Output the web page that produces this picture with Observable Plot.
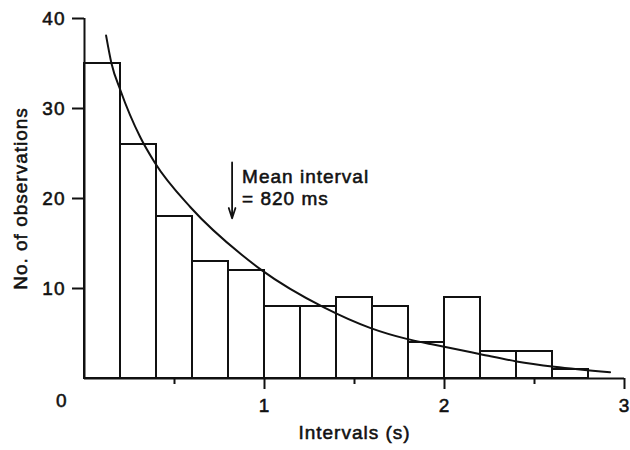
<!DOCTYPE html>
<html>
<head>
<meta charset="utf-8">
<script src="https://cdn.jsdelivr.net/npm/d3@7"></script>
<script src="https://cdn.jsdelivr.net/npm/@observablehq/plot@0.6"></script>
<style>
  body { margin: 0; background: #fff; }
  /* slightly heavier lettering */
  #chart text { stroke: #111; stroke-width: 0.55px; }
</style>
</head>
<body>
<div id="chart"></div>
<script>
// Histogram of inter-event intervals (0.2 s bins) with fitted exponential decay
const binStart = [0, 0.2, 0.4, 0.6, 0.8, 1.0, 1.2, 1.4, 1.6, 1.8, 2.0, 2.2, 2.4, 2.6];
const counts   = [35, 26, 18, 13, 12, 8, 8, 9, 8, 4, 9, 3, 3, 1];
const binWidth = 0.2;

// Fitted curve, sampled along its length
const curveT = [0.12, 0.15, 0.2, 0.31, 0.39, 0.59, 0.87, 0.98, 1.33, 1.59, 1.79, 1.93, 2.2, 2.4, 2.61, 2.92];
const curveN = [38.1, 35.0, 32.0, 26.8, 24.0, 19.0, 13.8, 12.1, 7.9, 5.6, 4.4, 3.8, 2.7, 1.9, 1.3, 0.7];

// Axis ticks and labels
const xTicks = [1, 2, 3];
const xMinorTicks = [0.5, 1.5, 2.5];
const yTicks = [10, 20, 30, 40];
const originLabel = "0";
const xLabel = "Intervals (s)";
const yLabel = "No. of observations";

// Mean interval marker
const meanInterval = 0.82;
const meanArrowFrom = 24;
const meanArrowTo = 17.8;
const meanLabel = "Mean interval\n= 820 ms";

const bins = binStart.map((x, i) => ({x1: x, x2: x + binWidth, n: counts[i]}));
const curve = curveT.map((t, i) => ({t, n: curveN[i]}));

const ink = "#111";

const chart = Plot.plot({
  width: 630,
  height: 450,
  marginLeft: 84,
  marginRight: 6,
  marginTop: 18,
  marginBottom: 72,
  x: {domain: [0, 3]},
  y: {domain: [0, 40]},
  style: {
    fontFamily: "'Liberation Sans', Arial, sans-serif",
    fontSize: "19px",
    letterSpacing: "1px",
    color: ink,
    background: "#fff"
  },
  marks: [
    Plot.rectY(bins, {x1: "x1", x2: "x2", y: "n", fill: "#fff", stroke: ink, strokeWidth: 2}),
    Plot.line(curve, {x: "t", y: "n", stroke: ink, strokeWidth: 2, curve: "monotone-x"}),
    Plot.ruleY([0], {x1: 0, x2: 3, stroke: ink, strokeWidth: 2}),
    Plot.ruleX([0], {y1: 0, y2: 40, stroke: ink, strokeWidth: 2}),
    Plot.axisY({ticks: yTicks, tickSize: 12, tickPadding: 7, strokeWidth: 2, fontSize: 19, label: null}),
    Plot.axisX({ticks: xTicks, tickSize: 11, tickPadding: 9, strokeWidth: 2, fontSize: 19,
                tickFormat: d3.format("d"), label: null}),
    Plot.axisX({ticks: xMinorTicks, tickSize: 6, strokeWidth: 2, tickFormat: () => "", label: null}),
    Plot.text([originLabel], {x: 0, y: 0, text: d => d, textAnchor: "end", dx: -17, dy: 22, fontSize: 19, fill: ink}),
    Plot.text([xLabel], {frameAnchor: "bottom", text: d => d, dy: 60, fontSize: 19, fill: ink}),
    Plot.text([yLabel], {frameAnchor: "left", textAnchor: "middle", text: d => d, rotate: -90, dx: -64, fontSize: 19, fill: ink}),
    Plot.arrow([meanInterval], {
      x1: d => d, x2: d => d, y1: meanArrowFrom, y2: meanArrowTo,
      stroke: ink, strokeWidth: 1.8, headAngle: 36, headLength: 9
    }),
    Plot.text([meanLabel], {
      x: meanInterval, y: 23.56, text: d => d, textAnchor: "start", lineAnchor: "top",
      lineHeight: 1.2, dx: 10, fontSize: 19, fill: ink
    })
  ]
});

document.getElementById("chart").append(chart);
</script>
</body>
</html>
